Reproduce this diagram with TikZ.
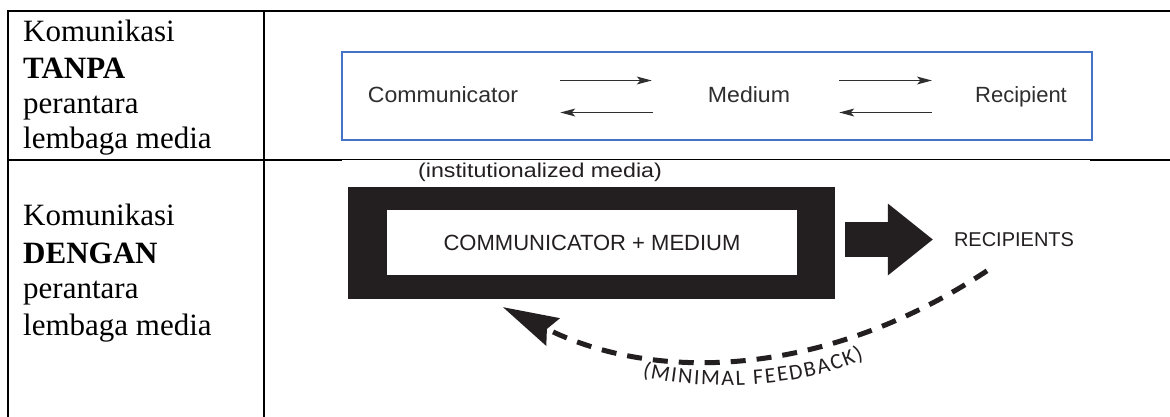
\documentclass[tikz,border=0pt]{standalone}
\usepackage{fontspec}
\setmainfont{Liberation Serif}
\newfontfamily\labelsans{Liberation Sans}
\newfontfamily\arcsans{Carlito}
\usetikzlibrary{arrows.meta,decorations.text}
\definecolor{ink}{HTML}{231F20}
\definecolor{boxblue}{HTML}{4472C4}
\definecolor{flowgray}{HTML}{2E2E2E}

\begin{document}
\begin{tikzpicture}[x=1pt,y=-1pt,
  rule/.style={line width=2.2pt, black, line cap=rect},
  celltext/.style={anchor=base west, inner sep=0pt, font=\fontsize{31}{36}\selectfont},
  flowlabel/.style={inner sep=0pt, text=flowgray, text height=16pt, text depth=5pt,
    font=\labelsans\fontsize{22}{26}\selectfont},
  flowarrow/.style={line width=1.3pt, draw=flowgray,
    -{Stealth[length=15pt,width=8pt,inset=3.5pt,line width=0pt]}},
  caplabel/.style={inner sep=0pt, text=ink, font=\labelsans\fontsize{21}{25}\selectfont},
  feedback/.style={draw=ink, line width=5pt, dash pattern=on 15pt off 11pt,
    -{Stealth[length=56pt,width=31pt,inset=7pt,line width=0pt]}},
]
\fill[white] (0,0) rectangle (1170,416);
\useasboundingbox (0,0) rectangle (1170,416);

% table rules
\draw[rule] (8,11) -- (1170,11);
\draw[rule] (8,11) -- (8,418);
\draw[rule] (264,11) -- (264,418);
\draw[rule] (8,160) -- (341,160);
\draw[black, line width=0.9pt] (341,159.5) -- (1091,159.5);
\draw[rule] (1091,160) -- (1170,160);

% left column
\node[celltext] (ta) at (23,41) {Komunikasi};
\node[celltext] (tb) at (23,78) {\textbf{TANPA}};
\node[celltext] (tc) at (23,113) {perantara};
\node[celltext] (td) at (23,148) {lembaga media};
\node[celltext] (da) at (23,225) {Komunikasi};
\node[celltext] (db) at (23,263) {\textbf{DENGAN}};
\node[celltext] (dc) at (23,298) {perantara};
\node[celltext] (dd) at (23,335) {lembaga media};

% direct communication
\node[draw=boxblue, line width=2pt, minimum width=750pt, minimum height=88pt, inner sep=0pt]
  (plainbox) at (717,96) {};
\node[flowlabel, anchor=base] (comm) at (443,102) {\scalebox{1.05}[1]{Communicator}};
\node[flowlabel, anchor=base] (med) at (749,102) {\scalebox{1.05}[1]{Medium}};
\node[flowlabel, anchor=base] (rec) at (1021,102) {Recipient};

\draw[flowarrow] ([xshift=42pt,yshift=16pt]comm.east) -- ([xshift=-56pt,yshift=16pt]med.west);
\draw[flowarrow] ([xshift=-55pt,yshift=-16pt]med.west) -- ([xshift=42pt,yshift=-16pt]comm.east);
\draw[flowarrow] ([xshift=49pt,yshift=16pt]med.east) -- ([xshift=-43pt,yshift=16pt]rec.west);
\draw[flowarrow] ([xshift=-43pt,yshift=-16pt]rec.west) -- ([xshift=49pt,yshift=-16pt]med.east);

% institutionalized communication
\node[caplabel, font=\labelsans\fontsize{20}{24}\selectfont] (inst) at (540,172)
  {\scalebox{1.16}[1]{(institutionalized media)}};
\node[fill=ink, minimum width=487pt, minimum height=112pt, inner sep=0pt] (frame) at (591.5,243) {};
\node[fill=white, minimum width=410pt, minimum height=65pt, inner sep=0pt, text=ink,
  font=\labelsans\fontsize{22}{26}\selectfont] (core) at (592,242.5) {COMMUNICATOR + MEDIUM};
\node[caplabel, font=\labelsans\fontsize{20}{24}\selectfont] (recs) at (1014,239.5) {RECIPIENTS};

\draw[ink, line width=35pt, -{Triangle[length=45pt,width=72pt,line width=0pt]}]
  ([xshift=10pt,yshift=3.5pt]frame.east) -- ([xshift=-21pt]recs.west);

\draw[feedback] ([shift={(-27pt,-24pt)}]recs.south) .. controls (830,375) and (660,385)
  .. ([shift={(-88.5pt,-8pt)}]frame.south);

\path[decorate, decoration={text along path, text align={fit to path}, text color=ink,
  text={|\arcsans\fontsize{22}{22}\selectfont|(MINIMAL FEEDBACK)}}]
  (642,376) .. controls (700,391) and (800,389) .. (864,359);
\end{tikzpicture}
\end{document}
